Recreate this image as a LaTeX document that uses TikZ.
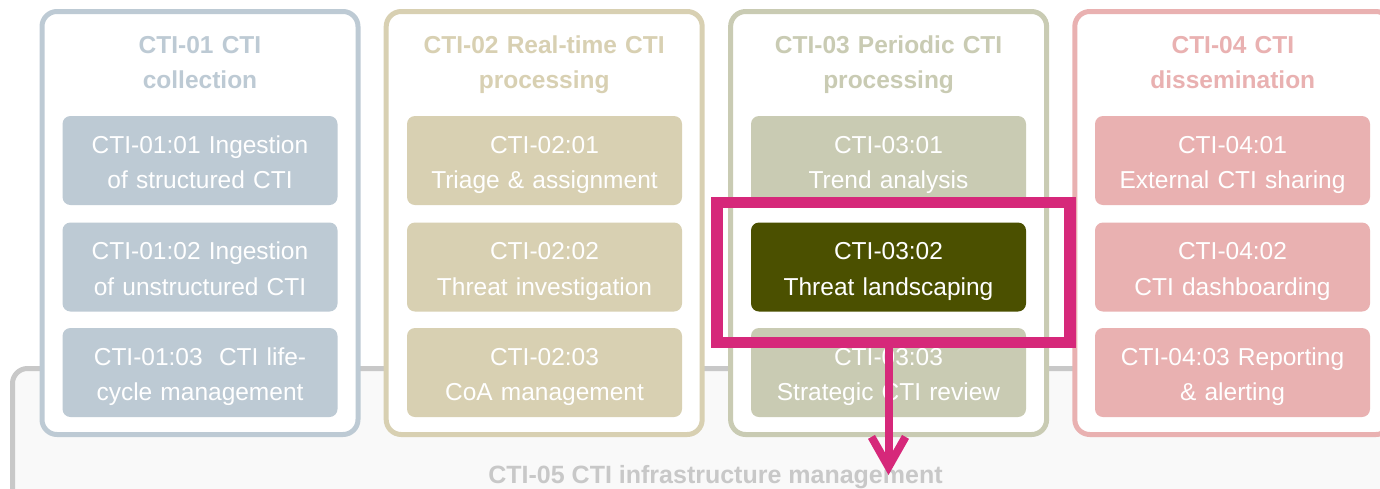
\documentclass[tikz,border=0pt]{standalone}
\usepackage{fontspec}
\setmainfont{Liberation Sans}
\usetikzlibrary{arrows.meta}

\definecolor{collectc}{HTML}{BDCAD4}
\definecolor{realtimec}{HTML}{D8D0B2}
\definecolor{periodicc}{HTML}{C9CBB3}
\definecolor{dissemc}{HTML}{E9B1B1}
\definecolor{focusfill}{HTML}{4B5000}
\definecolor{hot}{HTML}{D6287A}
\definecolor{rulegrey}{HTML}{C8C8C8}
\definecolor{paper}{HTML}{F9F9F9}

\begin{document}
\begin{tikzpicture}[x=1pt,y=-1pt,
  group/.style={draw=#1, line width=5pt, fill=white, rounded corners=15pt,
    minimum width=316pt, minimum height=423pt, inner sep=0pt},
  grouptitle/.style={text=#1, font=\bfseries\fontsize{24.5}{35.5}\selectfont,
    align=center, text width=300pt, inner sep=0pt, text height=17pt, text depth=32pt},
  item/.style={fill=#1, rounded corners=8pt, minimum width=275pt, minimum height=89pt,
    text width=270pt, align=center, text=white, font=\fontsize{24.5}{35.5}\selectfont,
    inner sep=0pt, text height=17pt, text depth=32pt},
  focus/.style={draw=hot, line width=11.5pt, minimum width=353pt, minimum height=140pt,
    inner sep=0pt},
  flow/.style={draw=hot, line width=8pt, -{Straight Barb[length=30pt,width=34pt]}}
]
\useasboundingbox (0,0) rectangle (1380,488);
\clip (0,0) rectangle (1380,488);

% infrastructure layer behind the four process groups
\draw[draw=rulegrey, line width=5pt, fill=paper, rounded corners=15pt]
  (12.5,368.5) rectangle (1430,560);
\node[anchor=base, text=rulegrey, font=\bfseries\fontsize{25}{30}\selectfont, inner sep=0pt]
  (infraLabel) at (715.5,483) {CTI-05 CTI infrastructure management};

% process groups
\node[group=collectc]   (g1) at (200,223) {};
\node[group=realtimec]  (g2) at (544.2,223) {};
\node[group=periodicc]  (g3) at (888.6,223) {};
\node[group=dissemc]    (g4) at (1232.8,223) {};

\node[grouptitle=collectc]  (t1) at (200,60.5)   {CTI-01 CTI\\collection};
\node[grouptitle=realtimec] (t2) at (544.2,60.5) {CTI-02 Real-time CTI\\processing};
\node[grouptitle=periodicc] (t3) at (888.6,60.5) {CTI-03 Periodic CTI\\processing};
\node[grouptitle=dissemc]   (t4) at (1232.8,60.5) {CTI-04 CTI\\dissemination};

% CTI-01
\node[item=collectc] (a1) at (200,160.5) {CTI-01:01 Ingestion\\of structured CTI};
\node[item=collectc] (a2) at (200,267)   {CTI-01:02 Ingestion\\of unstructured CTI};
\node[item=collectc] (a3) at (200,372.5) {CTI-01:03\ \ CTI life-\\cycle management};

% CTI-02
\node[item=realtimec] (b1) at (544.5,160.5) {CTI-02:01\\Triage \& assignment};
\node[item=realtimec] (b2) at (544.5,267)   {CTI-02:02\\Threat investigation};
\node[item=realtimec] (b3) at (544.5,372.5) {CTI-02:03\\CoA management};

% CTI-03
\node[item=periodicc]  (c1) at (888.5,160.5) {CTI-03:01\\Trend analysis};
\node[item=focusfill]  (c2) at (888.5,267)   {CTI-03:02\\Threat landscaping};
\node[item=periodicc]  (c3) at (888.5,372.5) {CTI-03:03\\Strategic CTI review};

% CTI-04
\node[item=dissemc] (d1) at (1232.5,160.5) {CTI-04:01\\External CTI sharing};
\node[item=dissemc] (d2) at (1232.5,267)   {CTI-04:02\\CTI dashboarding};
\node[item=dissemc] (d3) at (1232.5,372.5) {CTI-04:03 Reporting\\\& alerting};

% highlight on the selected capability and its link down to the infrastructure
\node[focus] (hl) at (893.5,272.5) {};
\coordinate (tip) at (888.5,475);
\draw[flow] (hl.south -| tip) -- (tip);
\end{tikzpicture}
\end{document}
